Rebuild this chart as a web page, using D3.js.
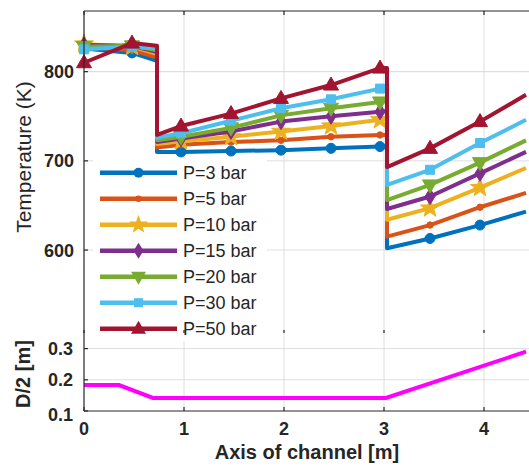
<!DOCTYPE html>
<html>
<head>
<meta charset="utf-8">
<script src="https://cdn.jsdelivr.net/npm/d3@7"></script>
<style>
  body { margin: 0; background: #fff; }
  svg { display: block; font-family: "Liberation Sans", Arial, sans-serif; }
</style>
</head>
<body>
<svg id="chart" width="529" height="466"></svg>
<script>
// x positions along the channel (m), step points repeat the x
const xPts = [0, 0.48, 0.73, 0.73, 0.97, 1.47, 1.97, 2.47, 2.96, 3.03, 3.03, 3.46, 3.96, 4.42];
// which points carry a marker
const markerIdx = [0, 1, 4, 5, 6, 7, 8, 11, 12];

const seriesNames = ["P=3 bar", "P=5 bar", "P=10 bar", "P=15 bar", "P=20 bar", "P=30 bar", "P=50 bar"];
const seriesColors = ["#0072BD", "#D95319", "#EDB120", "#7E2F8E", "#77AC30", "#4DBEEE", "#A2142F"];
const seriesMarkers = ["circle", "dot", "star", "diamond", "triangleDown", "square", "triangleUp"];

// temperatures (K)
const tP3  = [826, 821, 812, 710, 710, 711, 712, 714, 716, 716, 602, 613, 628, 643];
const tP5  = [828, 824, 816, 715, 718, 721, 723, 727, 729, 729, 615, 628, 648, 664];
const tP10 = [831, 828, 820, 719, 722, 727, 733, 739, 746, 747, 634, 647, 670, 692];
const tP15 = [830, 829, 822, 721, 725, 733, 744, 750, 755, 756, 646, 660, 686, 710];
const tP20 = [828, 829, 824, 723, 727, 737, 751, 759, 766, 767, 656, 673, 698, 723];
const tP30 = [825, 828, 826, 726, 731, 745, 759, 769, 781, 782, 673, 690, 720, 746];
const tP50 = [810, 832, 829, 729, 739, 753, 770, 785, 804, 804, 693, 714, 744, 774];
const temps = [tP3, tP5, tP10, tP15, tP20, tP30, tP50];

// channel half width D/2 (m)
const xRadius = [0, 0.35, 0.69, 3.02, 4.42];
const radius = [0.183, 0.183, 0.142, 0.142, 0.29];

const xTicks = [0, 1, 2, 3, 4];
const tTicks = [600, 700, 800];
const rTicks = [0.1, 0.2, 0.3];

const svg = d3.select("#chart");
const axisColor = "#262626";
const gridColor = "#dedede";

const x = d3.scaleLinear().domain([0, 4.5]).range([84, 534]);
const yT = d3.scaleLinear().domain([507, 868]).range([333, 11]);
const yR = d3.scaleLinear().domain([0.1, 0.35]).range([411, 333]);

// grid
const grid = svg.append("g");
xTicks.filter(d => d > 0).forEach(d => {
  grid.append("line").attr("x1", x(d)).attr("x2", x(d)).attr("y1", 11).attr("y2", 411)
    .attr("stroke", gridColor).attr("stroke-width", 1);
});
tTicks.concat([800]).forEach(d => {
  grid.append("line").attr("x1", 84).attr("x2", 534).attr("y1", yT(d)).attr("y2", yT(d))
    .attr("stroke", gridColor);
});
rTicks.filter(d => d > 0.1).forEach(d => {
  grid.append("line").attr("x1", 84).attr("x2", 534).attr("y1", yR(d)).attr("y2", yR(d))
    .attr("stroke", gridColor);
});

// marker shapes, drawn around 0,0
function markerPath(type) {
  const p = d3.path();
  if (type === "circle") { p.arc(0, 0, 5, 0, 2 * Math.PI); }
  else if (type === "dot") { p.arc(0, 0, 3.2, 0, 2 * Math.PI); }
  else if (type === "square") { p.rect(-4.5, -4.5, 9, 9); }
  else if (type === "diamond") { p.moveTo(0, -8); p.lineTo(5, 0); p.lineTo(0, 8); p.lineTo(-5, 0); p.closePath(); }
  else if (type === "triangleUp") { p.moveTo(0, -8); p.lineTo(7.5, 5); p.lineTo(-7.5, 5); p.closePath(); }
  else if (type === "triangleDown") { p.moveTo(0, 8); p.lineTo(7.5, -5); p.lineTo(-7.5, -5); p.closePath(); }
  else if (type === "star") {
    for (let i = 0; i < 10; i++) {
      const r = i % 2 === 0 ? 10 : 4;
      const a = -Math.PI / 2 + i * Math.PI / 5;
      if (i === 0) p.moveTo(r * Math.cos(a), r * Math.sin(a));
      else p.lineTo(r * Math.cos(a), r * Math.sin(a));
    }
    p.closePath();
  }
  return p.toString();
}

// temperature lines
const line = d3.line().x(d => x(d[0])).y(d => d[1]);
temps.forEach((vals, i) => {
  const pts = xPts.map((xv, j) => [xv, yT(vals[j])]);
  svg.append("path").attr("d", line(pts)).attr("fill", "none")
    .attr("stroke", seriesColors[i]).attr("stroke-width", 4).attr("stroke-linejoin", "round");
  svg.append("g").selectAll("path").data(markerIdx).enter().append("path")
    .attr("d", markerPath(seriesMarkers[i]))
    .attr("transform", j => `translate(${x(xPts[j])},${yT(vals[j])})`)
    .attr("fill", seriesColors[i]).attr("stroke", seriesColors[i]).attr("stroke-width", 1);
});

// D/2 line
svg.append("path")
  .attr("d", d3.line().x((d, j) => x(xRadius[j])).y(d => yR(d))(radius))
  .attr("fill", "none").attr("stroke", "#FF00FF").attr("stroke-width", 4);

// legend
const legend = svg.append("g");
legend.append("rect").attr("x", 93).attr("y", 158).attr("width", 174).attr("height", 183).attr("fill", "#fff");
seriesNames.forEach((name, i) => {
  const ly = 172.7 + i * 26;
  legend.append("line").attr("x1", 100).attr("x2", 177).attr("y1", ly).attr("y2", ly)
    .attr("stroke", seriesColors[i]).attr("stroke-width", 4.5);
  legend.append("path").attr("d", markerPath(seriesMarkers[i]))
    .attr("transform", `translate(138.5,${ly})`).attr("fill", seriesColors[i]);
  legend.append("text").attr("x", 183).attr("y", ly).attr("dy", "0.36em")
    .attr("font-size", 18).attr("fill", axisColor).text(name);
});

// axes frame
const frame = svg.append("g").attr("stroke", axisColor).attr("stroke-width", 1.2);
frame.append("line").attr("x1", 84).attr("x2", 84).attr("y1", 11).attr("y2", 411);
frame.append("line").attr("x1", 84).attr("x2", 534).attr("y1", 11).attr("y2", 11);
frame.append("line").attr("x1", 84).attr("x2", 534).attr("y1", 411).attr("y2", 411);

// tick marks pointing inwards
xTicks.forEach(d => {
  frame.append("line").attr("x1", x(d)).attr("x2", x(d)).attr("y1", 11).attr("y2", 15);
  frame.append("line").attr("x1", x(d)).attr("x2", x(d)).attr("y1", 411).attr("y2", 407);
  frame.append("line").attr("x1", x(d)).attr("x2", x(d)).attr("y1", 333).attr("y2", 330);
});
tTicks.forEach(d => {
  frame.append("line").attr("x1", 84).attr("x2", 88).attr("y1", yT(d)).attr("y2", yT(d));
});
rTicks.forEach(d => {
  frame.append("line").attr("x1", 84).attr("x2", 88).attr("y1", yR(d)).attr("y2", yR(d));
});

// tick labels
const labels = svg.append("g").attr("fill", axisColor).attr("font-weight", "bold").attr("font-size", 18);
tTicks.forEach(d => {
  labels.append("text").attr("x", 74).attr("y", yT(d)).attr("dy", "0.36em")
    .attr("text-anchor", "end").text(d);
});
rTicks.forEach(d => {
  labels.append("text").attr("x", 73).attr("y", d === 0.1 ? 415 : yR(d)).attr("dy", "0.36em")
    .attr("text-anchor", "end").text(d3.format(".1f")(d));
});
xTicks.forEach(d => {
  labels.append("text").attr("x", x(d)).attr("y", 429).attr("dy", "0.36em")
    .attr("text-anchor", "middle").text(d);
});

// axis titles
svg.append("text").attr("x", 307).attr("y", 459).attr("text-anchor", "middle")
  .attr("font-size", 20).attr("font-weight", "bold").attr("fill", axisColor)
  .text("Axis of channel [m]");
svg.append("text").attr("transform", "translate(31,157) rotate(-90)").attr("text-anchor", "middle")
  .attr("font-size", 21).attr("fill", axisColor).text("Temperature (K)");
svg.append("text").attr("transform", "translate(30,374) rotate(-90)").attr("text-anchor", "middle")
  .attr("font-size", 20).attr("font-weight", "bold").attr("fill", axisColor).text("D/2 [m]");
</script>
</body>
</html>
